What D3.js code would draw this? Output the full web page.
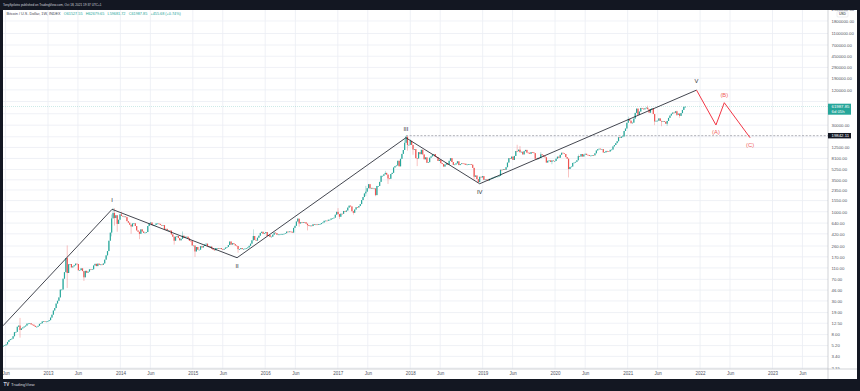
<!DOCTYPE html>
<html>
<head>
<meta charset="utf-8">
<script src="https://cdn.jsdelivr.net/npm/d3@7"></script>
<style>
html, body { margin: 0; padding: 0; background: #131722; }
svg { display: block; font-family: "Liberation Sans", Arial, sans-serif; }
</style>
</head>
<body>
<svg id="chart" width="860" height="391"></svg>
<script>

// weekly closes, one array per calendar year (weeks start on Monday)
const firstOpen = 5.0;
const c2012 = [5.1,5.15,5.25, 5.45,6.0,6.45,6.7, 6.8,7.5,8.8,8.9,10.9, 11.4,9.6,10.2,10.6,
  11.0,11.4,12.3,12.4, 12.5,11.9,11.8,11.3,10.8, 10.9,11.3,12.2,12.5, 13.4,13.5,13.4,13.4,13.6];
const c2013 = [14.1,15.6,17.5,20.6, 22.7,27.1,30.2,34.5, 46.9,47.0,72.0,93.0, 162,90,127,128,112,
  117,122,130,128, 100,101,108,97, 76,98,91,95,104, 103,104,121,129, 118,130,124,126,124,
  131,152,180,213, 320,440,770,950, 780,870,620,730,900];
const c2014 = [850,830,830,810, 690,650,600,560, 630,635,570,480,455, 420,500,460,435,
  440,450,570,630, 655,590,595,595,630, 630,620,595,585, 590,500,510,480,
  480,475,410,375,320, 375,385,355,325, 345,390,360,375, 375,350,320,315,265];
const c2015 = [265,210,250,225, 225,258,245,260, 275,285,260,250,255, 235,225,220,240,
  240,236,240,230, 225,233,245,250,270, 310,275,290,280, 265,260,230,230,240,
  230,232,235,238, 246,262,285,325, 385,330,322,360,390, 435,455,420,430];
const c2016 = [450,385,400,370, 375,405,440,430,405, 410,410,418,418, 420,430,458,450,
  460,455,440,530,575, 680,760,630,660, 650,665,660,625, 590,570,580,570,610,
  605,608,602,612, 615,640,655,700,705, 700,730,730,765, 770,790,890,995];
const c2017 = [910,820,925,920,1030, 1000,1050,1175,1270, 1230,1020,960,1090, 1190,1180,1250,1350,
  1580,1780,2050,2200,2520, 2950,2500,2550,2500, 2500,1920,2750,2750,3230, 4100,4100,4350,4600,
  4300,3700,3650,4400, 4610,5690,6000,6150,7400, 5950,8000,9700,11300, 15000,19100,13800,13850];
const c2018 = [16200,13800,11500,11700,8200, 8100,10400,9600,11400, 9500,7850,8450,6850,
  7000,8350,8800,9400,9650, 8700,8500,7350,7700, 6750,6500,5900,6380, 6750,6350,7400,8200,7050,
  6300,6400,6700,7250, 6250,6500,6700,6620, 6600,6300,6400,6450,6480, 6350,5600,3950,4150,
  3600,3200,3950,3850,4050];
const c2019 = [3500,3550,3530,3410, 3650,3650,3800,3810, 3950,3990,3990,4100, 5200,5150,5300,5200,5750,
  6900,8200,8050,8720, 7650,8950,10850,10800, 11450,10350,10550,9500,10800, 11350,10200,10150,9750,
  10400,10300,10000,8050,7850, 8300,8200,9550,9200, 8800,8500,6900,7400, 7500,7100,7500,7300,7350];
const c2020 = [8050,8700,8350,9350, 10150,9900,9650,8550, 8050,5350,5800,5900,6800, 6900,7100,7550,8900,
  8750,9650,8750,9450, 9750,9350,9300,9000,9080, 9250,9170,9930,11100, 11680,11900,11650,11700,10250,
  10330,10900,10750,10670, 11380,11500,13000,13750, 14800,15950,18650,18180,19150, 19250,23850,26300,33000];
const c2021 = [38200,35800,32300,33100, 38900,48600,57500,45150, 51200,59000,57500,55800,58200,
  59800,56200,49000,56600, 58200,46400,34700,35600,35800, 39100,35500,34700,35300,
  34250,31800,35400,39900, 43800,47000,49300,48800,51750, 45100,47250,43200,48200,
  54600,61527.55,61987.85];

// notable wicks: week start -> [high, low]
const wicks = {
  "2012-08-13": [15.4, 7.1], "2013-04-08": [266, 50], "2013-07-01": [null, 66],
  "2013-11-18": [900, 380], "2013-11-25": [1163, null], "2013-12-02": [1150, 580],
  "2013-12-16": [null, 455], "2014-01-06": [1000, null], "2014-02-24": [null, 420],
  "2014-04-07": [null, 340], "2014-09-29": [null, 275], "2014-11-10": [460, null],
  "2015-01-12": [null, 170], "2015-08-17": [null, 200], "2015-11-02": [500, null],
  "2016-06-13": [780, null], "2016-06-20": [null, 555], "2016-08-01": [null, 480],
  "2017-01-02": [1150, null], "2017-01-09": [null, 750], "2017-03-20": [null, 890],
  "2017-05-22": [2760, 1850], "2017-06-12": [2980, null], "2017-07-10": [null, 1840],
  "2017-08-28": [4980, null], "2017-09-11": [null, 2980], "2017-12-04": [17200, null],
  "2017-12-11": [19842.11, null], "2017-12-18": [null, 11000], "2018-01-01": [17250, null],
  "2018-01-15": [null, 9400], "2018-02-05": [null, 6000], "2018-11-19": [null, 3500],
  "2018-12-10": [null, 3150], "2019-06-24": [13880, null], "2019-07-08": [13200, null],
  "2019-09-23": [null, 7700], "2019-10-21": [10350, null], "2019-12-16": [null, 6450],
  "2020-03-09": [null, 3850], "2020-04-27": [9450, null], "2021-01-04": [41900, null],
  "2021-04-12": [64850, null], "2021-05-17": [null, 30000], "2021-06-21": [null, 28800],
  "2021-07-19": [null, 29300], "2021-09-06": [52900, 43000], "2021-09-20": [null, 40000],
  "2021-10-18": [62679.65, 59681.72]
};

// elliott wave drawing
const waveLabels = ["", "I", "II", "III", "IV", "V"];
const waveDates = ["2012-05-19", "2013-11-20", "2015-08-12", "2017-12-10", "2018-12-17", "2021-12-14"];
const wavePrices = [11.3, 1100, 164, 18300, 3000, 119000];
const corrLabels = ["", "(A)", "(B)", "(C)"];
const corrDates = ["2021-12-14", "2022-03-22", "2022-05-03", "2022-09-10"];
const corrPrices = [119000, 30200, 72500, 18300];
const athLevel = 19842.11, athDate = "2017-12-11";

const priceTicks = [2.15, 3.4, 5.2, 8, 12.5, 19, 30, 46, 70, 110, 170, 260, 420, 640, 1000, 1550,
  2350, 3500, 5250, 8100, 12500, 19000, 30000, 47000, 76000, 120000, 190000, 290000, 450000,
  700000, 1100000, 1800000, 2900000];
const tickYears = [2012, 2013, 2014, 2015, 2016, 2017, 2018, 2019, 2020, 2021, 2022, 2023];

const legendName = "Bitcoin / U.S. Dollar, 1W, INDEX";
const legendVals = ["O61527.55", "H62679.65", "L59681.72", "C61987.85", "+455.68 (+0.74%)"];
const headerText = "TonySpilotro published on TradingView.com, Oct 18, 2021 19:37 UTC+1";
const timer = "6d 05h";


const W = 860, H = 391;
const plot = { left: 3, right: 828, top: 10, bottom: 369 };
const up = '#26a69a', down = '#ef5350';

const parse = d3.timeParse('%Y-%m-%d');
const fmt = d3.timeFormat('%Y-%m-%d');

// build candles
let years = [[2012, c2012], [2013, c2013], [2014, c2014], [2015, c2015], [2016, c2016],
  [2017, c2017], [2018, c2018], [2019, c2019], [2020, c2020], [2021, c2021]];
let candles = [];
let prev = firstOpen;
years.forEach(([yr, closes]) => {
    let start = yr === 2012 ? parse('2012-05-14') : d3.timeMonday.ceil(new Date(yr, 0, 1));
    closes.forEach((c, i) => {
        let date = d3.timeDay.offset(start, 7 * i);
        let w = wicks[fmt(date)] || [null, null];
        let o = prev;
        let h = Math.max(o, c, w[0] || 0);
        let l = Math.min(o, c, w[1] || Infinity);
        candles.push({ date, o, h, l, c });
        prev = c;
    });
});

const x = d3.scaleTime()
    .domain([new Date(2013, 0, 1), new Date(2023, 0, 1)])
    .range([48, 772.5]);
const y = d3.scaleLog()
    .domain([2.07, 2.77e6])
    .range([plot.bottom, plot.top]);

const svg = d3.select('#chart');

svg.append('rect').attr('width', W).attr('height', H).attr('fill', '#131722');
svg.append('rect').attr('x', 3).attr('y', 10).attr('width', 854).attr('height', 369).attr('fill', '#fff');

let defs = svg.append('defs');
defs.append('clipPath').attr('id', 'plotclip').append('rect')
    .attr('x', plot.left).attr('y', plot.top)
    .attr('width', plot.right - plot.left).attr('height', plot.bottom - plot.top);
defs.append('clipPath').attr('id', 'yclip').append('rect')
    .attr('x', plot.right).attr('y', plot.top).attr('width', 30).attr('height', plot.bottom - plot.top);
defs.append('clipPath').attr('id', 'xclip').append('rect')
    .attr('x', plot.left).attr('y', plot.bottom).attr('width', plot.right - plot.left).attr('height', 10);

let timeTicks = [];
tickYears.forEach(yr => { timeTicks.push(new Date(yr, 0, 1)); timeTicks.push(new Date(yr, 5, 1)); });

let last = candles[candles.length - 1];
let yp = y(last.c), ya = y(athLevel);

// grid
let grid = svg.append('g').attr('clip-path', 'url(#plotclip)');
grid.selectAll('.vg').data(timeTicks).enter().append('line')
    .attr('x1', d => x(d)).attr('x2', d => x(d))
    .attr('y1', plot.top).attr('y2', plot.bottom)
    .attr('stroke', '#ebeef4').attr('stroke-width', 0.8);
grid.selectAll('.hg').data(priceTicks).enter().append('line')
    .attr('x1', plot.left).attr('x2', plot.right)
    .attr('y1', d => y(d)).attr('y2', d => y(d))
    .attr('stroke', '#ebeef4').attr('stroke-width', 0.8);

let chart = svg.append('g').attr('clip-path', 'url(#plotclip)');

// ATH dashed level
chart.append('line')
    .attr('x1', x(parse(athDate))).attr('x2', plot.right)
    .attr('y1', ya).attr('y2', ya)
    .attr('stroke', '#787b86').attr('stroke-width', 0.6)
    .attr('stroke-dasharray', '2,1.6');

// last price line
chart.append('line')
    .attr('x1', plot.left).attr('x2', plot.right)
    .attr('y1', yp).attr('y2', yp)
    .attr('stroke', up).attr('stroke-width', 0.5).attr('opacity', 0.55)
    .attr('stroke-dasharray', '1,1');

// candles
let cg = chart.append('g');
cg.selectAll('.wick').data(candles).enter().append('line')
    .attr('x1', d => x(d.date)).attr('x2', d => x(d.date))
    .attr('y1', d => y(d.h)).attr('y2', d => y(d.l))
    .attr('stroke', d => d.c >= d.o ? up : down)
    .attr('stroke-width', 0.5).attr('opacity', 0.7);
cg.selectAll('.body').data(candles).enter().append('rect')
    .attr('x', d => x(d.date) - 0.6)
    .attr('width', 1.2)
    .attr('y', d => y(Math.max(d.o, d.c)))
    .attr('height', d => Math.max(0.7, y(Math.min(d.o, d.c)) - y(Math.max(d.o, d.c))))
    .attr('fill', d => d.c >= d.o ? up : down);

// waves
let wave = waveDates.map((d, i) => ({ date: parse(d), p: wavePrices[i], label: waveLabels[i] }));
let corr = corrDates.map((d, i) => ({ date: parse(d), p: corrPrices[i], label: corrLabels[i] }));
let line = d3.line().x(d => x(d.date)).y(d => y(d.p));

chart.append('path').datum(wave).attr('d', line)
    .attr('fill', 'none').attr('stroke', '#131722').attr('stroke-width', 0.8);
chart.append('path').datum(corr).attr('d', line)
    .attr('fill', 'none').attr('stroke', '#f23645').attr('stroke-width', 1);

function drawLabels(pts, color, off) {
    pts.forEach((d, i) => {
        if (!d.label) return;
        let peak = d.p > pts[i - 1].p;
        chart.append('text')
            .attr('x', x(d.date))
            .attr('y', y(d.p) + (peak ? -off : off))
            .attr('text-anchor', 'middle')
            .attr('dominant-baseline', 'middle')
            .attr('font-size', 5.8)
            .attr('fill', color)
            .text(d.label);
    });
}
drawLabels(wave, '#2a2e39', 8.6);
drawLabels(corr, '#f0605d', 7.4);

// axis borders
svg.append('line').attr('x1', plot.right).attr('x2', plot.right).attr('y1', plot.top).attr('y2', 379)
    .attr('stroke', '#b2b5be').attr('stroke-width', 0.6);
svg.append('line').attr('x1', plot.left).attr('x2', 857).attr('y1', plot.bottom).attr('y2', plot.bottom)
    .attr('stroke', '#b2b5be').attr('stroke-width', 0.6);

// right price axis (labels hidden where the price tags sit)
let shownTicks = priceTicks.filter(p => Math.abs(y(p) - ya) > 4 && (y(p) < yp - 6 || y(p) > yp + 11));
let yAxis = svg.append('g').attr('clip-path', 'url(#yclip)')
    .append('g').attr('transform', `translate(${plot.right},0)`)
    .call(d3.axisRight(y).tickValues(shownTicks).tickFormat(d => d.toFixed(2)).tickSize(0).tickPadding(3.5));
yAxis.select('.domain').remove();
yAxis.selectAll('text').attr('font-size', 4.3).attr('fill', '#50535e')
    .attr('font-family', '"Liberation Sans", Arial, sans-serif');

// bottom time axis
let xAxis = svg.append('g').attr('clip-path', 'url(#xclip)')
    .append('g').attr('transform', `translate(0,${plot.bottom})`)
    .call(d3.axisBottom(x).tickValues(timeTicks)
        .tickFormat(d => d.getMonth() === 0 ? d.getFullYear() : 'Jun').tickSize(0).tickPadding(3.2));
xAxis.select('.domain').remove();
xAxis.selectAll('text').attr('font-size', 4.5).attr('fill', '#50535e')
    .attr('font-family', '"Liberation Sans", Arial, sans-serif');

// price tags on the axis
svg.append('rect').attr('x', plot.right).attr('y', yp - 3).attr('width', 23).attr('height', 11)
    .attr('fill', up);
svg.append('text').attr('x', plot.right + 3.5).attr('y', yp).attr('dominant-baseline', 'middle')
    .attr('font-size', 4.3).attr('fill', '#fff').text(last.c.toFixed(2));
svg.append('text').attr('x', plot.right + 3.5).attr('y', yp + 5.6).attr('dominant-baseline', 'middle')
    .attr('font-size', 4.3).attr('fill', '#fff').text(timer);

svg.append('rect').attr('x', plot.right).attr('y', ya - 2.7).attr('width', 23).attr('height', 5.4)
    .attr('fill', '#131722');
svg.append('text').attr('x', plot.right + 3.5).attr('y', ya).attr('dominant-baseline', 'middle')
    .attr('font-size', 4.3).attr('fill', '#fff').text(athLevel.toFixed(2));

svg.append('rect').attr('x', 837).attr('y', 11.5).attr('width', 11).attr('height', 5.5).attr('rx', 1)
    .attr('fill', '#fff').attr('stroke', '#d1d4dc').attr('stroke-width', 0.4);
svg.append('text').attr('x', 842.5).attr('y', 14.4).attr('text-anchor', 'middle')
    .attr('dominant-baseline', 'middle').attr('font-size', 3.4).attr('fill', '#131722').text('USD');

// header and legend
svg.append('text').attr('x', 3).attr('y', 5.2).attr('dominant-baseline', 'middle')
    .attr('font-size', 3.1).attr('fill', '#d1d4dc').text(headerText);

let legend = svg.append('text').attr('x', 6.5).attr('y', 14.4).attr('dominant-baseline', 'middle')
    .attr('font-size', 3.8);
legend.append('tspan').attr('fill', '#434651').text(legendName);
legendVals.forEach(v => legend.append('tspan').attr('dx', 3.2).attr('fill', up).text(v));

// footer logo
svg.append('text').attr('x', 3.5).attr('y', 385).attr('dominant-baseline', 'middle')
    .attr('font-size', 4.6).attr('font-weight', 'bold').attr('fill', '#d1d4dc').text('TV');
svg.append('text').attr('x', 11).attr('y', 385).attr('dominant-baseline', 'middle')
    .attr('font-size', 4.3).attr('fill', '#d1d4dc').text('TradingView');

</script>
</body>
</html>
